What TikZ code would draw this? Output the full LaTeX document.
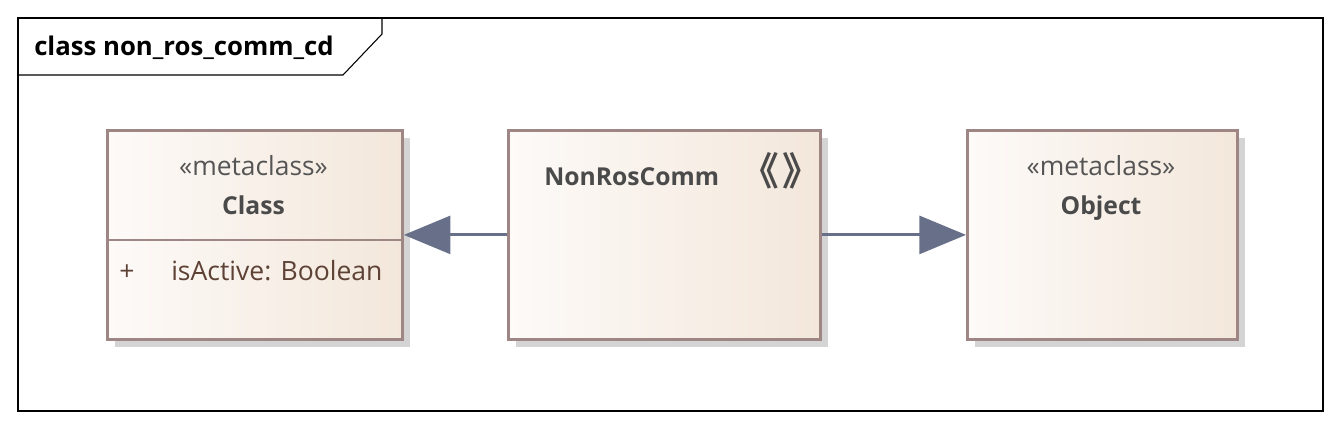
\documentclass[tikz,border=0pt]{standalone}
\usepackage{fontspec}
\setmainfont{Open Sans}
\newfontfamily\cjk{Noto Sans CJK SC Bold}
\usetikzlibrary{arrows.meta,shadows,positioning}
\definecolor{boxborder}{HTML}{9E8684}
\definecolor{fillL}{HTML}{FDFAF8}
\definecolor{fillR}{HTML}{F3E7DB}
\definecolor{shadowgray}{HTML}{D4D4D4}
\definecolor{arrowcol}{HTML}{687089}
\definecolor{nametext}{HTML}{4A4A4A}
\definecolor{stereotext}{HTML}{555555}
\definecolor{attrtext}{HTML}{5E4236}
\tikzset{
  umlbox/.style={draw=boxborder, line width=2.1pt, left color=fillL, right color=fillR,
    anchor=north west, inner sep=0pt,
    drop shadow={shadow xshift=6pt, shadow yshift=-6pt, fill=shadowgray, opacity=1}},
  stereo/.style={text=stereotext, font=\fontsize{19.8}{22}\selectfont, inner sep=0pt, anchor=base},
  cname/.style={text=nametext, font=\fontsize{18.5}{22}\selectfont\bfseries, inner sep=0pt, anchor=base},
  attr/.style={text=attrtext, font=\fontsize{19.9}{22}\selectfont, inner sep=0pt, anchor=base},
  genarrow/.style={draw=arrowcol, line width=2.2pt, -{Triangle[length=35pt,width=28.5pt]}},
}
\begin{document}
\begin{tikzpicture}[x=0.75pt,y=-0.75pt]
\useasboundingbox (0,0) rectangle (1341,429);
% frame
\draw[black, line width=0.8pt] (18,18) rectangle (1323,411);
\draw[black, line width=0.8pt] (18,75) -- (343,75) -- (382,34) -- (382,18);
\node[anchor=base west, inner sep=0pt, font=\fontsize{19.3}{22}\selectfont\bfseries] (title) at (34,55) {class non\_ros\_comm\_cd};
% Class box
\node[umlbox, minimum width=221.25pt, minimum height=156.75pt] (cls) at (106,129) {};
\draw[boxborder, line width=2.1pt] (cls.west |- 0,240) -- (cls.east |- 0,240);
\node[stereo] (clsst) at (253.5,175) {«metaclass»};
\node[cname] (clsname) at (253.5,214) {Class};
\node[attr] (plus) at (127,280) {+};
\node[attr, anchor=base west] (attr1) at (171,280) {isActive: Boolean};
% NonRosComm box
\node[umlbox, minimum width=234pt, minimum height=156.75pt] (nrc) at (507,129) {};
\node[cname, anchor=base west] (nrcname) at (544,185) {NonRosComm};
\node[text=nametext, inner sep=0pt, font=\cjk\fontsize{29}{30}\selectfont] (icon) at (781,171) {《\hspace{3pt}》};
% Object box
\node[umlbox, minimum width=202.5pt, minimum height=156.75pt] (obj) at (966,129) {};
\node[stereo] (objst) at (1101,175) {«metaclass»};
\node[cname] (objname) at (1101,214) {Object};
% generalizations
\draw[genarrow] (nrc.west) -- (cls.east);
\draw[genarrow] (nrc.east) -- (obj.west);
\end{tikzpicture}
\end{document}
